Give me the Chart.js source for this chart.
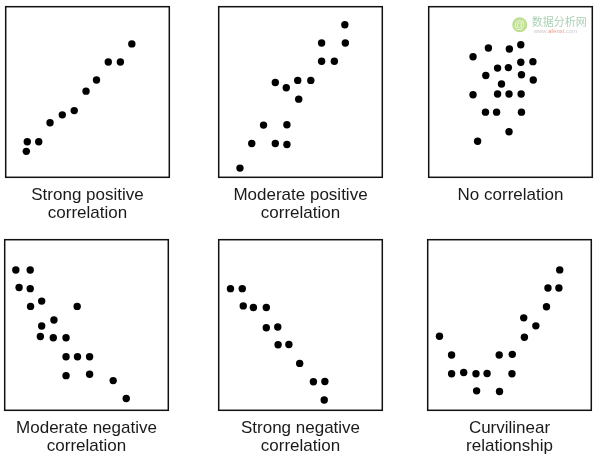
<!DOCTYPE html>
<html>
<head>
<meta charset="utf-8">
<script src="https://cdn.jsdelivr.net/npm/chart.js@4"></script>
<style>
  html, body { margin: 0; padding: 0; background: #fff; }
  #wrap { position: relative; width: 600px; height: 464px; overflow: hidden; }
  #wrap canvas { position: absolute; }
</style>
</head>
<body>
<div id="wrap">
  <canvas id="c1" width="171" height="221" style="left:2px;top:3px"></canvas>
  <canvas id="c2" width="171" height="221" style="left:215px;top:3px"></canvas>
  <canvas id="c3" width="171" height="221" style="left:425px;top:3px"></canvas>
  <canvas id="c4" width="171" height="221" style="left:1px;top:236px"></canvas>
  <canvas id="c5" width="171" height="221" style="left:215px;top:236px"></canvas>
  <canvas id="c6" width="171" height="221" style="left:424px;top:236px"></canvas>
</div>
<script>
// Point positions, as percent of each panel box (x from left, y from bottom)
const strongPosX = [77.1, 62.7, 70.1, 55.5, 49.1, 41.9, 34.6, 27.1, 13.2, 20.2, 12.6];
const strongPosY = [78.2, 67.6, 67.6, 57.0, 50.5, 39.1, 36.6, 32.0, 20.8, 20.8, 15.2];

const modPosX = [77.1, 62.9, 77.4, 62.9, 70.7, 34.6, 48.3, 56.3, 41.3, 48.9, 27.4, 41.7, 20.2, 34.6, 41.7, 13.0];
const modPosY = [89.4, 78.7, 78.7, 68.0, 68.0, 55.6, 56.8, 56.8, 52.5, 45.8, 30.6, 30.8, 19.8, 19.8, 19.2, 5.4];

const noCorrX = [56.3, 36.5, 49.3, 27.1, 56.3, 63.7, 42.1, 48.7, 34.9, 56.7, 63.9, 44.5, 27.1, 42.1, 49.1, 56.5, 34.7, 41.5, 56.7, 49.1, 29.9];
const noCorrY = [77.7, 75.8, 75.2, 70.7, 67.4, 67.8, 64.0, 64.3, 59.7, 60.1, 57.0, 54.7, 48.4, 48.8, 48.8, 48.8, 38.2, 38.2, 38.2, 26.7, 21.1];

const modNegX = [6.8, 15.6, 8.8, 15.6, 15.8, 22.6, 44.3, 30.1, 22.6, 21.8, 29.7, 37.5, 37.5, 44.5, 51.9, 37.5, 51.9, 66.3, 74.3];
const modNegY = [82.2, 82.2, 72.0, 71.3, 60.9, 64.0, 60.9, 52.9, 49.4, 43.3, 42.5, 42.5, 31.4, 31.4, 31.4, 20.3, 21.1, 17.4, 6.9];

const strongNegX = [7.2, 14.4, 15.0, 21.2, 29.1, 29.1, 36.1, 36.3, 42.9, 49.5, 57.9, 64.9, 64.5];
const strongNegY = [71.3, 71.3, 61.2, 60.3, 60.3, 48.4, 48.8, 38.4, 38.6, 27.5, 16.7, 16.9, 6.0];

const curveX = [80.7, 73.5, 80.2, 72.6, 58.7, 66.1, 59.1, 7.2, 14.6, 43.7, 51.7, 14.6, 22.0, 29.5, 36.3, 51.5, 29.9, 43.9];
const curveY = [82.3, 71.7, 71.7, 60.7, 54.2, 49.5, 42.8, 43.4, 32.4, 32.4, 32.8, 21.4, 22.2, 21.4, 21.6, 21.4, 11.4, 11.0];

const panelTitles = [
  ['Strong positive', 'correlation'],
  ['Moderate positive', 'correlation'],
  ['No correlation', ''],
  ['Moderate negative', 'correlation'],
  ['Strong negative', 'correlation'],
  ['Curvilinear', 'relationship']
];

const FONT = '"Liberation Sans", Arial, Helvetica, sans-serif';

// draws the square frame round the plot area
const frameBox = {
  id: 'frameBox',
  afterDraw(chart) {
    const a = chart.chartArea;
    const ctx = chart.ctx;
    ctx.save();
    ctx.strokeStyle = '#111';
    ctx.lineWidth = 1.5;
    ctx.strokeRect(a.left, a.top, a.right - a.left, a.bottom - a.top);
    ctx.restore();
  }
};

// faint site watermark in the top-right panel
const watermark = {
  id: 'watermark',
  afterDraw(chart) {
    const ctx = chart.ctx;
    const x = chart.chartArea.left + 91;
    const y = chart.chartArea.top + 18;
    ctx.save();
    ctx.globalAlpha = 0.75;
    ctx.fillStyle = '#a8d46a';
    ctx.beginPath();
    ctx.arc(x, y, 7.5, 0, Math.PI * 2);
    ctx.fill();
    ctx.fillStyle = '#fff';
    ctx.font = 'bold 11px ' + FONT;
    ctx.textAlign = 'center';
    ctx.textBaseline = 'middle';
    ctx.fillText('@', x, y + 0.5);
    ctx.textAlign = 'left';
    ctx.fillStyle = '#8fbf9a';
    ctx.font = '11px "Noto Sans CJK SC", sans-serif';
    ctx.fillText('数据分析网', x + 12, y - 3);
    ctx.font = '6px ' + FONT;
    ctx.fillStyle = '#b8b8b8';
    ctx.fillText('www.', x + 14, y + 7);
    const w = ctx.measureText('www.').width;
    ctx.fillStyle = '#e07a5a';
    ctx.fillText('afenxi', x + 14 + w, y + 7);
    const w2 = ctx.measureText('afenxi').width;
    ctx.fillStyle = '#b8b8b8';
    ctx.fillText('.com', x + 14 + w + w2, y + 7);
    ctx.restore();
  }
};

function makePanel(id, xs, ys, title, extra) {
  const pts = xs.map((x, i) => ({ x: x, y: ys[i] }));
  return new Chart(document.getElementById(id), {
    type: 'scatter',
    data: {
      datasets: [{
        data: pts,
        backgroundColor: '#000',
        borderWidth: 0,
        pointRadius: 3.7,
        pointHoverRadius: 3.7
      }]
    },
    options: {
      responsive: false,
      animation: false,
      layout: { padding: { top: 2, left: 2, right: 2, bottom: 2 } },
      scales: {
        x: { display: false, min: 0, max: 100 },
        y: { display: false, min: 0, max: 100 }
      },
      plugins: {
        legend: { display: false },
        tooltip: { enabled: false },
        title: {
          display: true,
          position: 'bottom',
          text: title,
          color: '#1a1a1a',
          padding: { top: 9, bottom: 0 },
          font: { family: FONT, size: 17, weight: 'normal', lineHeight: 1.05 }
        }
      }
    },
    plugins: extra ? [frameBox, extra] : [frameBox]
  });
}

makePanel('c1', strongPosX, strongPosY, panelTitles[0]);
makePanel('c2', modPosX, modPosY, panelTitles[1]);
makePanel('c3', noCorrX, noCorrY, panelTitles[2], watermark);
makePanel('c4', modNegX, modNegY, panelTitles[3]);
makePanel('c5', strongNegX, strongNegY, panelTitles[4]);
makePanel('c6', curveX, curveY, panelTitles[5]);
</script>
</body>
</html>
